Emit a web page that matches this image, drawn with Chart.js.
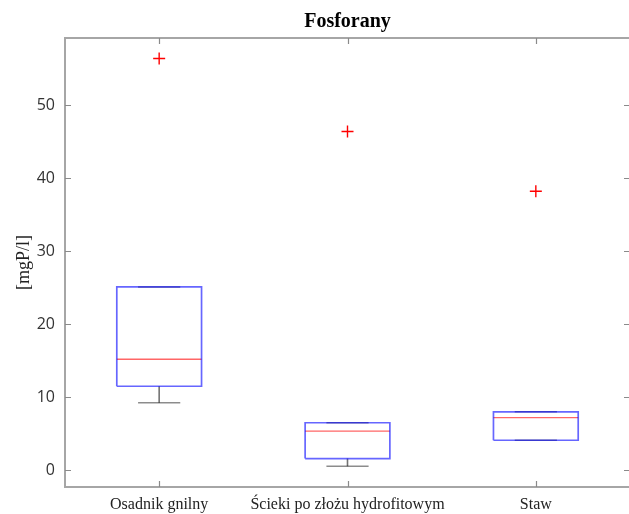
<!DOCTYPE html>
<html>
<head>
<meta charset="utf-8">
<script src="https://cdn.jsdelivr.net/npm/chart.js@4"></script>
<style>
    html, body { margin: 0; padding: 0; background: #fff; overflow: hidden; }
    #wrap { width: 630px; height: 514px; }
</style>
</head>
<body>
<div id="wrap"><canvas id="boxChart"></canvas></div>
<script>
// data
const categories = ['Osadnik gnilny', 'Ścieki po złożu hydrofitowym', 'Staw'];
const q1Values = [11.5, 1.6, 4.1];
const medianValues = [15.2, 5.35, 7.2];
const q3Values = [25.1, 6.5, 8.0];
const whiskerLow = [9.25, 0.55, 4.1];
const whiskerHigh = [25.1, 6.5, 8.0];
const outlierValues = [56.4, 46.4, 38.2];
const yTicks = [0, 10, 20, 30, 40, 50];

const boxHalf = 0.225;
const capHalf = 0.112;

function segments(pairs) {
    // list of [x, y] runs separated by gaps
    const pts = [];
    pairs.forEach(run => {
        run.forEach(p => pts.push({ x: p[0], y: p[1] }));
        pts.push({ x: run[0][0], y: null });
    });
    return pts;
}

const boxRuns = categories.map((c, i) => {
    const x = i + 1;
    return [[x - boxHalf, q1Values[i]], [x + boxHalf, q1Values[i]], [x + boxHalf, q3Values[i]],
            [x - boxHalf, q3Values[i]], [x - boxHalf, q1Values[i]]];
});
const medianRuns = categories.map((c, i) => [[i + 1 - boxHalf, medianValues[i]], [i + 1 + boxHalf, medianValues[i]]]);
const whiskerRuns = [];
const capRuns = [];
categories.forEach((c, i) => {
    const x = i + 1;
    if (whiskerLow[i] < q1Values[i]) whiskerRuns.push([[x, q1Values[i]], [x, whiskerLow[i]]]);
    if (whiskerHigh[i] > q3Values[i]) whiskerRuns.push([[x, q3Values[i]], [x, whiskerHigh[i]]]);
    capRuns.push([[x - capHalf, whiskerLow[i]], [x + capHalf, whiskerLow[i]]]);
    capRuns.push([[x - capHalf, whiskerHigh[i]], [x + capHalf, whiskerHigh[i]]]);
});

const lineDefaults = { showLine: true, pointRadius: 0, spanGaps: false, fill: false };

// MATLAB-like frame with inward ticks on all four sides
const framePlugin = {
    id: 'frame',
    afterDatasetsDraw(chart) {
        const { ctx, chartArea: a, scales } = chart;
        ctx.save();
        ctx.strokeStyle = '#a6a6a6';
        ctx.lineWidth = 2;
        ctx.strokeRect(a.left, a.top, a.right - a.left, a.bottom - a.top);
        ctx.strokeStyle = '#8a8a8a';
        ctx.lineWidth = 1.2;
        ctx.beginPath();
        yTicks.forEach(v => {
            const y = Math.round(scales.y.getPixelForValue(v)) + 0.5;
            ctx.moveTo(a.left, y); ctx.lineTo(a.left + 6, y);
            ctx.moveTo(a.right, y); ctx.lineTo(a.right - 6, y);
        });
        categories.forEach((c, i) => {
            const x = Math.round(scales.x.getPixelForValue(i + 1)) + 0.5;
            ctx.moveTo(x, a.bottom); ctx.lineTo(x, a.bottom - 6);
            ctx.moveTo(x, a.top); ctx.lineTo(x, a.top + 6);
        });
        ctx.stroke();
        ctx.restore();
    }
};

new Chart(document.getElementById('boxChart'), {
    type: 'scatter',
    data: {
        datasets: [
            { ...lineDefaults, label: 'box', data: segments(boxRuns), borderColor: 'rgba(0, 0, 255, 0.6)', borderWidth: 1.7 },
            { ...lineDefaults, label: 'whisker', data: segments(whiskerRuns), borderColor: 'rgba(0, 0, 0, 0.55)', borderWidth: 1.6 },
            { ...lineDefaults, label: 'cap', data: segments(capRuns), borderColor: 'rgba(0, 0, 0, 0.45)', borderWidth: 1.6 },
            { ...lineDefaults, label: 'median', data: segments(medianRuns), borderColor: 'rgba(255, 0, 0, 0.6)', borderWidth: 1.4 },
            {
                label: 'outliers',
                data: outlierValues.map((v, i) => ({ x: i + 1, y: v })),
                pointStyle: 'cross',
                pointRadius: 6,
                borderColor: '#ff0000',
                borderWidth: 1.4,
                showLine: false
            }
        ]
    },
    options: {
        responsive: true,
        maintainAspectRatio: false,
        animation: false,
        layout: { padding: 0, autoPadding: false },
        plugins: {
            legend: { display: false },
            tooltip: { enabled: false },
            title: {
                display: true,
                text: 'Fosforany',
                fullSize: false,
                color: '#000',
                font: { family: 'Liberation Serif', size: 20, weight: 'bold' },
                padding: { top: 10, bottom: 4 }
            }
        },
        scales: {
            x: {
                type: 'linear',
                min: 0.5,
                max: 3.5,
                afterBuildTicks: s => { s.ticks = categories.map((c, i) => ({ value: i + 1 })); },
                afterFit: s => { s.height = 27; },
                grid: { display: false, drawTicks: false },
                border: { display: false },
                ticks: {
                    padding: 8,
                    maxRotation: 0,
                    autoSkip: false,
                    color: '#222',
                    font: { family: 'Liberation Serif', size: 16 },
                    callback: v => categories[v - 1]
                }
            },
            y: {
                min: -2.3,
                max: 59.2,
                afterBuildTicks: s => { s.ticks = yTicks.map(v => ({ value: v })); },
                afterFit: s => { s.width = 65; },
                grid: { display: false, drawTicks: false },
                border: { display: false },
                title: {
                    display: true,
                    text: '[mgP/l]',
                    color: '#222',
                    font: { family: 'Liberation Serif', size: 18 },
                    padding: { top: 13, bottom: 0 }
                },
                ticks: {
                    padding: 10,
                    color: '#333',
                    font: { family: 'Open Sans', size: 16 }
                }
            }
        }
    },
    plugins: [framePlugin]
});
</script>
</body>
</html>
